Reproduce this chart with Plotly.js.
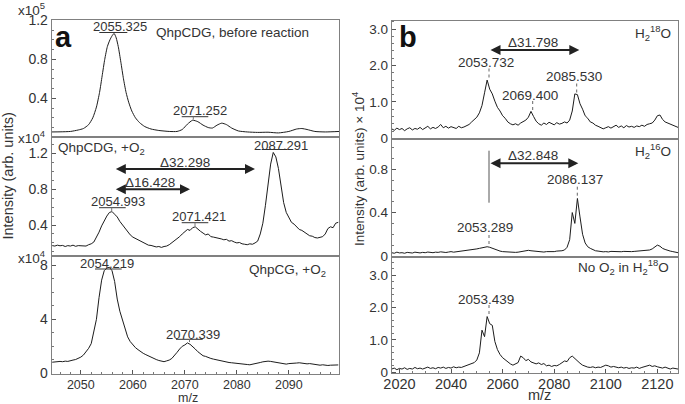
<!DOCTYPE html>
<html><head><meta charset="utf-8">
<script src="https://cdn.plot.ly/plotly-3.0.1.min.js"></script>
<style>html,body{margin:0;padding:0;background:#fff}#chart{width:685px;height:404px}</style>
</head><body><div id="chart"></div>
<script>
// ---------- DATA ----------
// Panel a, top: QhpCDG, before reaction (x10^5)
const aTopMz = [2044.4,2046,2048,2049.5,2050.5,2051.5,2052.3,2053,2053.6,2054.1,2054.6,2055.1,2055.6,2056,2056.4,2056.8,2057.2,2057.7,2058.2,2058.7,2059.2,2059.8,2060.5,2061.3,2062.3,2063.5,2065,2067,2068.5,2069.5,2070.5,2071.5,2072.5,2073.5,2074.5,2075.3,2076.2,2077.1,2078,2079,2080.3,2082,2084,2086,2088,2090,2091.5,2092.5,2093.5,2095,2097,2099.7];
const aTopInt = [0.055,0.056,0.06,0.075,0.09,0.13,0.2,0.31,0.46,0.63,0.8,0.93,1.0,1.04,1.065,1.02,0.93,0.77,0.6,0.46,0.36,0.27,0.2,0.15,0.11,0.085,0.07,0.06,0.06,0.08,0.135,0.175,0.16,0.125,0.1,0.095,0.125,0.145,0.13,0.095,0.065,0.055,0.05,0.052,0.045,0.06,0.085,0.09,0.08,0.06,0.055,0.06];

// shared m/z grid for panel a, middle and bottom
const aMz = [2044.5,2045,2045.5,2046,2046.5,2047,2047.5,2048,2048.5,2049,
2049.5,2050,2050.5,2051,2051.5,2052,2052.5,2053,2053.5,2054,
2054.5,2055,2055.5,2056,2056.5,2057,2057.5,2058,2058.5,2059,
2059.5,2060,2060.5,2061,2061.5,2062,2062.5,2063,2063.5,2064,
2064.5,2065,2065.5,2066,2066.5,2067,2067.5,2068,2068.5,2069,
2069.5,2070,2070.5,2071,2071.5,2072,2072.5,2073,2073.5,2074,
2074.5,2075,2075.5,2076,2076.5,2077,2077.5,2078,2078.5,2079,
2079.5,2080,2080.5,2081,2081.5,2082,2082.5,2083,2083.5,2084,
2084.5,2085,2085.5,2086,2086.5,2087,2087.5,2088,2088.5,2089,
2089.5,2090,2090.5,2091,2091.5,2092,2092.5,2093,2093.5,2094,
2094.5,2095,2095.5,2096,2096.5,2097,2097.5,2098,2098.5,2099,
2099.5];
// Panel a, middle: QhpCDG, +O2 (x10^4)
const aMidInt = [0.17,0.165,0.175,0.168,0.172,0.16,0.17,0.165,0.175,0.162,
0.17,0.168,0.172,0.165,0.18,0.19,0.21,0.26,0.32,0.39,
0.45,0.50,0.54,0.55,0.52,0.49,0.44,0.40,0.36,0.32,
0.29,0.265,0.25,0.23,0.215,0.2,0.19,0.175,0.172,0.16,
0.155,0.16,0.15,0.16,0.165,0.18,0.2,0.22,0.25,0.27,
0.3,0.33,0.35,0.34,0.37,0.38,0.35,0.33,0.31,0.29,
0.3,0.27,0.265,0.26,0.25,0.245,0.235,0.24,0.22,0.225,
0.21,0.2,0.205,0.19,0.185,0.18,0.19,0.185,0.2,0.22,
0.3,0.42,0.62,0.88,1.08,1.21,1.16,1.03,0.82,0.65,
0.54,0.48,0.43,0.41,0.38,0.35,0.34,0.32,0.3,0.28,
0.275,0.26,0.255,0.26,0.27,0.3,0.36,0.38,0.37,0.42,
0.43];
// Panel a, bottom: QhpCG, +O2 (x10^4)
const aBotInt = [0.82,0.85,0.83,0.88,0.86,0.9,0.88,0.95,0.98,1.02,
1.1,1.2,1.35,1.6,1.85,2.2,3.0,4.0,5.6,6.9,
7.6,7.8,7.85,7.6,6.8,5.5,4.6,3.9,3.2,2.7,
2.35,2.1,1.9,1.75,1.6,1.48,1.38,1.28,1.18,1.1,
1.02,0.95,0.9,0.86,0.92,0.98,1.1,1.3,1.55,1.8,
2.0,2.1,2.25,2.15,2.0,1.8,1.6,1.45,1.3,1.25,
1.15,1.1,1.05,1.0,0.98,0.92,0.88,0.85,0.8,0.78,
0.75,0.72,0.7,0.68,0.66,0.65,0.63,0.66,0.7,0.75,
0.8,0.85,0.88,0.9,0.88,0.85,0.82,0.78,0.72,0.7,
0.68,0.72,0.75,0.74,0.76,0.78,0.75,0.72,0.7,0.72,
0.68,0.65,0.62,0.6,0.63,0.6,0.58,0.6,0.62,0.6,
0.62];

// shared m/z grid for panel b
const bMz = [2017,2018,2019,2020,2021,2022,2023,2024,2025,2026,
2027,2028,2029,2030,2031,2032,2033,2034,2035,2036,
2037,2038,2039,2040,2041,2042,2043,2044,2045,2046,
2047,2048,2049,2050,2051,2052,2053,2054,2055,2056,
2057,2058,2059,2060,2061,2062,2063,2064,2065,2066,
2067,2068,2069,2070,2071,2072,2073,2074,2075,2076,
2077,2078,2079,2080,2081,2082,2083,2084,2085,2086,
2087,2088,2089,2090,2091,2092,2093,2094,2095,2096,
2097,2098,2099,2100,2101,2102,2103,2104,2105,2106,
2107,2108,2109,2110,2111,2112,2113,2114,2115,2116,
2117,2118,2119,2120,2121,2122,2123,2124,2125,2126,
2127,2128];
// Panel b, top: H2 18O
const bTopInt = [0.26,0.22,0.28,0.24,0.27,0.21,0.26,0.29,0.23,0.27,
0.25,0.3,0.24,0.28,0.33,0.26,0.3,0.27,0.31,0.38,
0.29,0.33,0.28,0.32,0.3,0.27,0.33,0.29,0.31,0.35,
0.38,0.45,0.52,0.58,0.7,0.9,1.25,1.6,1.35,1.22,
1.02,0.85,0.75,0.62,0.55,0.45,0.4,0.37,0.4,0.36,
0.42,0.45,0.5,0.58,0.74,0.6,0.47,0.4,0.36,0.42,
0.38,0.44,0.4,0.37,0.43,0.39,0.41,0.45,0.42,0.5,
0.75,1.22,1.2,0.95,0.8,0.62,0.55,0.45,0.42,0.36,
0.33,0.3,0.26,0.29,0.32,0.28,0.33,0.36,0.3,0.34,
0.29,0.35,0.31,0.33,0.3,0.34,0.32,0.36,0.33,0.38,
0.4,0.42,0.5,0.62,0.64,0.52,0.45,0.42,0.38,0.34,
0.33,0.3];
// Panel b, middle: H2 16O
const bMidInt = [0.03,0.025,0.035,0.028,0.03,0.025,0.033,0.03,0.027,0.035,
0.03,0.028,0.033,0.03,0.036,0.032,0.03,0.035,0.033,0.038,
0.035,0.032,0.036,0.04,0.035,0.038,0.042,0.04,0.045,0.048,
0.05,0.055,0.06,0.065,0.07,0.075,0.08,0.085,0.08,0.07,
0.06,0.052,0.045,0.04,0.038,0.035,0.032,0.03,0.033,0.035,
0.04,0.045,0.05,0.052,0.048,0.045,0.04,0.038,0.04,0.036,
0.04,0.038,0.042,0.04,0.045,0.043,0.048,0.055,0.08,0.15,
0.4,0.3,0.53,0.36,0.2,0.12,0.085,0.07,0.055,0.048,
0.045,0.04,0.038,0.04,0.037,0.042,0.04,0.038,0.041,0.039,
0.042,0.04,0.043,0.04,0.042,0.045,0.043,0.045,0.048,0.05,
0.055,0.065,0.08,0.1,0.09,0.07,0.06,0.05,0.045,0.04,
0.035,0.03];
// Panel b, bottom: No O2 in H2 18O
const bBotInt = [0.1,0.13,0.08,0.12,0.1,0.14,0.09,0.12,0.1,0.15,
0.11,0.13,0.1,0.12,0.16,0.12,0.14,0.11,0.15,0.13,
0.16,0.12,0.15,0.13,0.17,0.14,0.16,0.15,0.18,0.2,
0.22,0.25,0.3,0.38,0.6,1.3,1.1,1.72,1.5,1.45,
0.95,0.7,0.55,0.45,0.38,0.3,0.26,0.22,0.25,0.3,
0.5,0.45,0.36,0.4,0.32,0.3,0.26,0.29,0.24,0.27,
0.2,0.22,0.18,0.21,0.2,0.24,0.3,0.35,0.33,0.45,
0.5,0.42,0.36,0.28,0.22,0.18,0.16,0.15,0.17,0.14,
0.16,0.15,0.18,0.22,0.2,0.16,0.18,0.15,0.14,0.16,
0.13,0.15,0.12,0.14,0.13,0.16,0.12,0.15,0.18,0.2,
0.22,0.18,0.2,0.17,0.15,0.13,0.16,0.12,0.1,0.13,
0.11,0.1];

// tick labels
const aXTicks = [2050,2060,2070,2080,2090];
const bXTicks = [2020,2040,2060,2080,2100,2120];
const aTopYTicks = [0.4,0.8,1.2];
const aMidYTicks = [0.4,0.8,1.2];
const aBotYTicks = [0,4,8];
const bTopYTicks = [0,1,2,3], bTopYText = ['0','1.0','2.0','3.0'];
const bMidYTicks = [0,0.4,0.8], bMidYText = ['0','0.4','0.8'];
const bBotYTicks = [0,1,2,3], bBotYText = ['0','1.0','2.0','3.0'];

// ---------- LAYOUT ----------
const W = 685, H = 404;
const FONT = 'Liberation Sans, Arial, sans-serif';
const TXT = '#333';
const px = v => v / W;
const py = v => 1 - v / H;
const ydom = (top, bot) => [py(bot), py(top)];

function ax(extra) {
  return Object.assign({showline:true, mirror:true, linecolor:'#808080', linewidth:1,
    showgrid:false, zeroline:false, fixedrange:true, ticks:'', showticklabels:false,
    tickfont:{family:FONT, color:TXT}}, extra);
}
function yTicks(vals, text, size, minorDt) {
  return {showticklabels:true, tickmode:'array', tickvals:vals, ticktext:text || vals.map(String),
    ticks:'inside', ticklen:4, tickcolor:'#555', tickfont:{family:FONT, color:TXT, size:size},
    minor:{ticks:'inside', ticklen:2, tickcolor:'#777', tickmode:'linear', tick0:0, dtick:minorDt}};
}
function xTicks(vals, size, minorDt, standoff) {
  return {showticklabels:true, tickmode:'array', tickvals:vals, ticktext:vals.map(String),
    ticks:'inside', ticklen:4, tickcolor:'#555', tickfont:{family:FONT, color:TXT, size:size},
    ticklabelstandoff:standoff,
    minor:{ticks:'inside', ticklen:2, tickcolor:'#777', tickmode:'linear', tick0:2000, dtick:minorDt}};
}

const aXD = [px(51.7), px(339.3)], bXD = [px(391.7), px(678)];
const aXR = [2044.4, 2099.7], bXR = [2017, 2128];

const layout = {
  width: W, height: H, margin:{l:0,r:0,t:0,b:0}, showlegend:false,
  paper_bgcolor:'#fff', plot_bgcolor:'#fff', font:{family:FONT, color:TXT},
  xaxis:  ax({domain:aXD, range:aXR, anchor:'y'}),
  yaxis:  ax(Object.assign({domain:ydom(20.3,137.3), range:[0,1.2], anchor:'x'}, yTicks(aTopYTicks,null,14,0.1))),
  xaxis2: ax({domain:aXD, range:aXR, anchor:'y2'}),
  yaxis2: ax(Object.assign({domain:ydom(137.3,256), range:[0.054,1.379], anchor:'x2'}, yTicks(aMidYTicks,null,14,0.1))),
  xaxis3: ax(Object.assign({domain:aXD, range:aXR, anchor:'y3'}, xTicks(aXTicks,12.5,2,-1))),
  yaxis3: ax(Object.assign({domain:ydom(256,374), range:[-0.052,8.689], anchor:'x3'}, yTicks(aBotYTicks,null,14,1))),
  xaxis4: ax({domain:bXD, range:bXR, anchor:'y4'}),
  yaxis4: ax(Object.assign({domain:ydom(20.7,139), range:[-0.019,3.231], anchor:'x4'}, yTicks(bTopYTicks,bTopYText,13.5,0.2))),
  xaxis5: ax({domain:bXD, range:bXR, anchor:'y5'}),
  yaxis5: ax(Object.assign({domain:ydom(139,256.5), range:[-0.005,1.078], anchor:'x5'}, yTicks(bMidYTicks,bMidYText,13.5,0.1))),
  xaxis6: ax(Object.assign({domain:bXD, range:bXR, anchor:'y6'}, xTicks(bXTicks,14.5,5,-3))),
  yaxis6: ax(Object.assign({domain:ydom(256.5,373.3), range:[-0.031,3.574], anchor:'x6'}, yTicks(bBotYTicks,bBotYText,13.5,0.2))),
  annotations: [], shapes: []
};

function label(text, x, y, size, opts) {
  layout.annotations.push(Object.assign({text:text, xref:'paper', yref:'paper', x:px(x), y:py(y),
    xanchor:'center', yanchor:'middle', showarrow:false, borderpad:0,
    font:{family:FONT, size:size, color:TXT}}, opts || {}));
}
function seg(x0, y0, x1, y1, dash, color) {
  layout.shapes.push({type:'line', xref:'paper', yref:'paper', x0:px(x0), y0:py(y0), x1:px(x1), y1:py(y1),
    line:{color:color || '#333', width:1, dash:dash || 'solid'}});
}
function dblArrow(x0, x1, y) {
  layout.annotations.push({text:'', xref:'paper', yref:'paper', x:px(x1), y:py(y), ax:x0 - x1, ay:0,
    showarrow:true, arrowside:'end+start', arrowhead:2, startarrowhead:2, arrowsize:1, startarrowsize:1,
    arrowwidth:2, arrowcolor:'#222', standoff:0, startstandoff:0});
}

// panel a
label('x10<sup>5</sup>', 31.7, 8.5, 13.5);
label('x10<sup>4</sup>', 31.7, 136.5, 13.5);
label('x10<sup>4</sup>', 31.7, 256.5, 13.5);
label('<b>a</b>', 64, 37, 29, {font:{family:FONT, size:29, color:'#111'}});
label('2055.325', 120, 26.7, 13);           seg(99.3, 32.5, 127.3, 32.5);
label('QhpCDG, before reaction', 232.7, 32.3, 13.5);
label('2071.252', 199.7, 110, 13);           seg(181.7, 116.7, 208.3, 116.7); seg(193.3, 116.7, 193.3, 119.5, 'solid', '#777');
label('QhpCDG, +O<sub>2</sub>', 57.3, 148.3, 13.5, {xanchor:'left'});
label('2087.291', 281.3, 145, 13);           seg(261.7, 149.5, 287.3, 149.5);
label('Δ32.298', 185.3, 162.3, 13.5);        dblArrow(114.3, 255, 169);
label('Δ16.428', 150, 182.3, 13.5);          dblArrow(114.3, 190, 189.3);
label('2054.993', 118, 201, 13);             seg(99, 207.7, 125.7, 207.7); seg(111.7, 207.7, 111.7, 212, 'solid', '#777');
label('2071.421', 199.2, 216, 13);           seg(181.7, 222.7, 208.3, 222.7); seg(195, 222.7, 195, 226, 'solid', '#777');
label('2054.219', 107, 263.3, 13);           seg(95, 269, 121.7, 269);
label('QhpCG, +O<sub>2</sub>', 287.8, 270, 13.5);
label('2070.339', 192.7, 334, 13);           seg(176, 339.3, 202.7, 339.3); seg(189.5, 339.3, 189.5, 342, 'solid', '#777');
label('Intensity (arb. units)', 7.5, 176, 14.5, {textangle:-90});
label('m/z', 188.3, 397.5, 12.5);

// panel b
label('<b>b</b>', 407.5, 37, 29, {font:{family:FONT, size:29, color:'#111'}});
label('H<sub>2</sub><sup>18</sup>O', 653, 33.3, 13.5);
label('Δ31.798', 532.5, 42.3, 13.5);         dblArrow(489, 579.3, 50);
label('2053.732', 486, 62.3, 13.5);          seg(489, 68.5, 489, 80, 'dot', '#666');
label('2085.530', 574, 76.7, 13.5);          seg(576.7, 83.5, 576.7, 93, 'dot', '#666');
label('2069.400', 529.5, 95, 13.5);          seg(532.7, 101, 532.7, 111.5, 'dot', '#666');
label('H<sub>2</sub><sup>16</sup>O', 653, 150.7, 13.5);
label('Δ32.848', 532.5, 155, 13.5);          dblArrow(489, 578.3, 163.3);
seg(489, 150.7, 489, 202.7, 'solid', '#555');
label('2086.137', 574.5, 180, 13.5);         seg(577.3, 186.7, 577.3, 198.3, 'dot', '#666');
label('2053.289', 485.3, 227.7, 13.5);       seg(489, 235, 489, 246.7, 'dot', '#666');
label('No O<sub>2</sub> in H<sub>2</sub><sup>18</sup>O', 623.3, 267.3, 13.5);
label('2053.439', 486.2, 299.3, 13.5);       seg(489, 305, 489, 316.7, 'dot', '#666');
label('Intensity (arb. units) × 10<sup>4</sup>', 358, 169, 13.5, {textangle:-90});
label('m/z', 539.5, 395, 14.5);

// ---------- TRACES ----------
const LINE = {color:'#1c1c1c', width:1};
const data = [
  {x:aTopMz, y:aTopInt, xaxis:'x',  yaxis:'y',  mode:'lines', line:Object.assign({shape:'spline', smoothing:0.6}, LINE), hoverinfo:'skip'},
  {x:aMz,    y:aMidInt, xaxis:'x2', yaxis:'y2', mode:'lines', line:LINE, hoverinfo:'skip'},
  {x:aMz,    y:aBotInt, xaxis:'x3', yaxis:'y3', mode:'lines', line:LINE, hoverinfo:'skip'},
  {x:bMz,    y:bTopInt, xaxis:'x4', yaxis:'y4', mode:'lines', line:LINE, hoverinfo:'skip'},
  {x:bMz,    y:bMidInt, xaxis:'x5', yaxis:'y5', mode:'lines', line:LINE, hoverinfo:'skip'},
  {x:bMz,    y:bBotInt, xaxis:'x6', yaxis:'y6', mode:'lines', line:LINE, hoverinfo:'skip'}
];

Plotly.newPlot('chart', data, layout, {staticPlot:true, displayModeBar:false});
</script>
</body></html>
